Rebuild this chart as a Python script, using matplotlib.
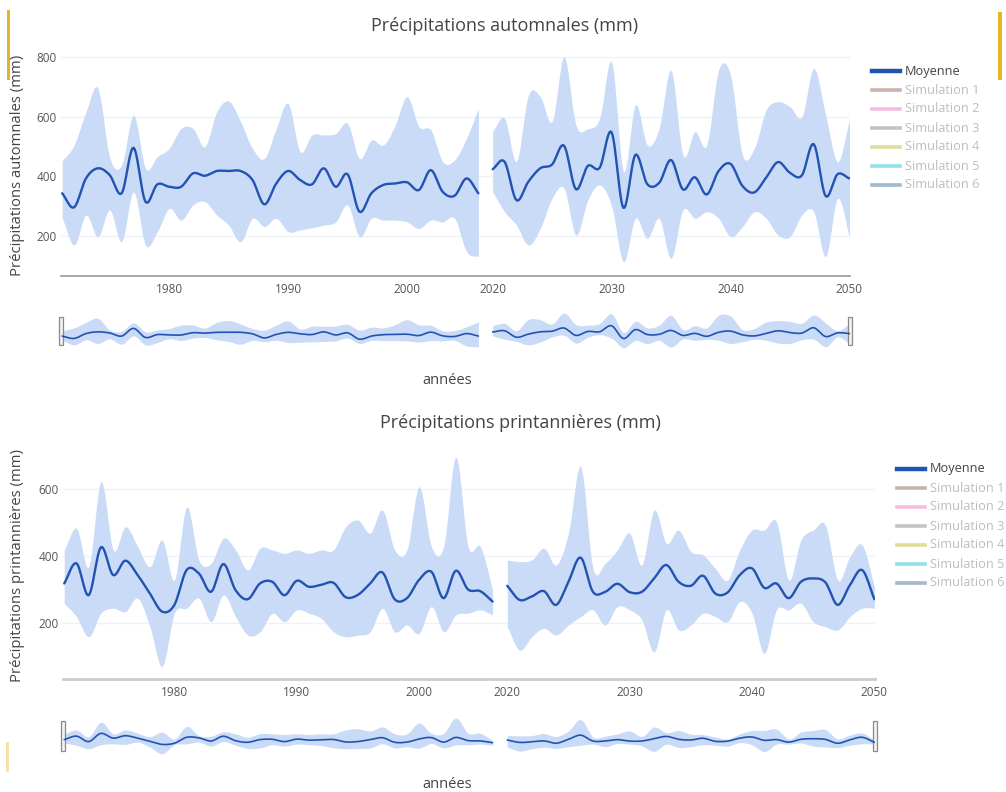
import numpy as np
import matplotlib
matplotlib.use("Agg")
import matplotlib.pyplot as plt
from matplotlib.patches import Rectangle
from matplotlib.lines import Line2D

W, H = 1006, 792
plt.rcParams['font.family'] = ['Open Sans', 'DejaVu Sans']

# years of the two periods; the empty years in between are squeezed out of the axis
years_hist = np.arange(1971, 2007)
years_fut = np.arange(2020, 2051)
GAP = 12.8

# autumn precipitation (mm): ensemble mean, min and max
aut_mean_hist = [343, 296, 393, 427, 404, 343, 496, 315, 373, 365, 365, 410, 402, 418, 418, 418,
                 388, 306, 376, 418, 388, 373, 427, 365, 407, 281, 343, 371, 376, 380, 354, 421,
                 348, 335, 393, 343]
aut_hi_hist = [452, 505, 617, 696, 462, 438, 606, 427, 466, 494, 561, 561, 500, 617, 653, 584,
               494, 460, 561, 645, 483, 539, 539, 544, 578, 460, 522, 505, 572, 668, 567, 556,
               449, 455, 528, 628]
aut_lo_hist = [260, 169, 270, 197, 287, 180, 348, 169, 214, 292, 253, 304, 315, 270, 236, 180,
               259, 231, 259, 214, 220, 227, 236, 247, 304, 197, 259, 253, 253, 247, 225, 253,
               247, 259, 147, 130]
aut_mean_fut = [424, 449, 320, 382, 427, 440, 503, 357, 435, 429, 548, 294, 472, 374, 378, 455,
                356, 397, 339, 418, 442, 368, 346, 396, 448, 412, 403, 508, 334, 407, 393]
aut_hi_fut = [552, 595, 450, 673, 668, 584, 802, 572, 560, 595, 785, 416, 640, 505, 561, 757,
              472, 550, 505, 757, 740, 472, 494, 623, 651, 634, 600, 763, 606, 449, 589]
aut_lo_fut = [348, 281, 236, 169, 225, 326, 360, 203, 320, 371, 300, 113, 259, 191, 259, 124,
              287, 259, 281, 259, 197, 231, 281, 259, 203, 197, 270, 281, 130, 326, 197]

# spring precipitation (mm)
spr_mean_hist = [319, 379, 284, 427, 344, 387, 344, 289, 235, 255, 359, 349, 294, 377, 299, 272,
                 319, 324, 284, 327, 309, 315, 321, 278, 285, 319, 352, 272, 275, 330, 354, 275,
                 357, 301, 296, 265]
spr_hi_hist = [419, 484, 369, 623, 419, 488, 429, 369, 449, 329, 548, 389, 379, 454, 419, 359,
               424, 419, 409, 419, 409, 419, 419, 488, 508, 469, 538, 419, 419, 608, 429, 429,
               697, 429, 429, 300]
spr_lo_hist = [260, 220, 160, 230, 245, 235, 275, 190, 71, 230, 245, 275, 205, 285, 220, 165,
               175, 230, 205, 240, 230, 215, 175, 160, 165, 175, 245, 175, 195, 170, 250, 175,
               225, 230, 240, 225]
spr_mean_fut = [312, 270, 280, 296, 255, 324, 396, 294, 294, 318, 293, 294, 334, 374, 324, 312,
                342, 289, 292, 344, 364, 306, 319, 275, 324, 334, 322, 255, 314, 359, 272]
spr_hi_fut = [389, 384, 389, 424, 374, 469, 668, 364, 379, 419, 469, 374, 538, 439, 478, 414,
              404, 364, 329, 419, 478, 478, 503, 329, 449, 478, 493, 329, 399, 434, 309]
spr_lo_fut = [190, 120, 160, 185, 165, 195, 220, 240, 195, 250, 240, 210, 115, 240, 180, 195,
              230, 220, 205, 265, 230, 110, 240, 240, 260, 205, 190, 180, 220, 245, 245]

tick_years = [1980, 1990, 2000, 2020, 2030, 2040, 2050]
sim_labels = ["Simulation %d" % i for i in range(1, 7)]
sim_colors = ["#c9b3ad", "#f3bde2", "#c4c4c4", "#dedd9a", "#93dfe8", "#a3b9cc"]

FILL = "#c9dbf6"
MEAN = "#2253b3"
TXT = "#444444"


def to_pos(years):
    years = np.asarray(years, float)
    return np.where(years >= 2020, years - GAP, years)


def smooth(x, y, n=12):
    # Catmull-Rom spline through the yearly values
    x = np.asarray(x, float)
    y = np.asarray(y, float)
    px = np.concatenate([[2 * x[0] - x[1]], x, [2 * x[-1] - x[-2]]])
    py = np.concatenate([[2 * y[0] - y[1]], y, [2 * y[-1] - y[-2]]])
    t = np.linspace(0, 1, n, endpoint=False)[:, None]
    def cr(p):
        p0, p1, p2, p3 = p[:-3], p[1:-2], p[2:-1], p[3:]
        return 0.5 * (2 * p1 + (-p0 + p2) * t + (2 * p0 - 5 * p1 + 4 * p2 - p3) * t ** 2
                      + (-p0 + 3 * p1 - 3 * p2 + p3) * t ** 3)
    xs = np.append(cr(px).T.ravel(), x[-1])
    ys = np.append(cr(py).T.ravel(), y[-1])
    return xs, ys


def fig_rect(fig, l, t, r, b):
    return fig.add_axes([l / W, 1 - b / H, (r - l) / W, (b - t) / H])


def draw_series(ax, segments, lw):
    for yrs, mean, lo, hi in segments:
        p = to_pos(yrs)
        xs, m = smooth(p, mean)
        _, l = smooth(p, lo)
        _, u = smooth(p, hi)
        ax.fill_between(xs, l, u, color=FILL, lw=0)
        ax.plot(xs, m, color=MEAN, lw=lw, solid_capstyle="round")


def panel(fig, box, mini_box, segments, ylim, yticks, title, title_xy, ylabel, ylabel_xy,
          axis_color, axis_lw, legend_x, legend_y, xlabel_y):
    ax = fig_rect(fig, *box)
    draw_series(ax, segments, 1.7)
    ax.set_xlim(1970.9, 2037.25)
    ax.set_ylim(*ylim)
    ax.set_yticks(yticks)
    ax.set_xticks(to_pos(tick_years))
    ax.set_xticklabels([str(y) for y in tick_years])
    ax.grid(axis="y", color="#eef1f6", lw=1)
    ax.set_axisbelow(True)
    for s in ["top", "right", "left"]:
        ax.spines[s].set_visible(False)
    ax.spines["bottom"].set_color(axis_color)
    ax.spines["bottom"].set_linewidth(axis_lw)
    ax.tick_params(length=0, labelsize=8.5, labelcolor="#555555")
    ax.tick_params(axis="x", pad=5)
    ax.tick_params(axis="y", pad=3)

    fig.text(title_xy[0] / W, 1 - title_xy[1] / H, title, ha="center", va="center",
             fontsize=13, color=TXT)
    fig.text(ylabel_xy[0] / W, 1 - ylabel_xy[1] / H, ylabel, ha="center", va="center",
             rotation=90, fontsize=10.7, color=TXT)

    # range slider underneath
    mini = fig_rect(fig, *mini_box)
    draw_series(mini, segments, 1.2)
    mini.set_xlim(1970.9, 2037.25)
    mini.set_ylim(*ylim)
    mini.set_axis_off()
    for xa in (0, 1):
        mini.add_patch(Rectangle((xa - 0.003, 0.12), 0.006, 0.76, transform=mini.transAxes,
                                 facecolor="#f2f2f2", edgecolor="#8a8a8a", lw=0.9,
                                 clip_on=False))
    fig.text(447 / W, 1 - xlabel_y / H, "années", ha="center", va="center",
             fontsize=10.5, color=TXT)

    # legend: the simulations are hidden, only the mean is shown
    step = 19
    entries = [("Moyenne", MEAN, TXT)] + [(lab, c, "#bdbdbd") for lab, c in zip(sim_labels, sim_colors)]
    for i, (lab, col, tcol) in enumerate(entries):
        yy = 1 - (legend_y + i * step) / H
        fig.add_artist(Line2D([legend_x / W, (legend_x + 28) / W], [yy, yy], color=col,
                              lw=3.2 if i == 0 else 2.6, transform=fig.transFigure))
        fig.text((legend_x + 33) / W, yy, lab, ha="left", va="center", fontsize=9.2,
                 color=tcol)
    return ax


fig = plt.figure(figsize=(W / 100, H / 100), dpi=100)

aut_segments = [(years_hist, aut_mean_hist, aut_lo_hist, aut_hi_hist),
                (years_fut, aut_mean_fut, aut_lo_fut, aut_hi_fut)]
spr_segments = [(years_hist, spr_mean_hist, spr_lo_hist, spr_hi_hist),
                (years_fut, spr_mean_fut, spr_lo_fut, spr_hi_fut)]

panel(fig, (61, 50.8, 850, 275.7), (61, 312, 850, 350), aut_segments, (66, 822),
      [200, 400, 600, 800], "Précipitations automnales (mm)", (505, 26),
      "Précipitations automnales (mm)", (18, 165), "#9a9a9a", 1.2, 872, 71, 380)
panel(fig, (63, 445.7, 875, 679.3), (63, 716, 875, 756), spr_segments, (33, 730),
      [200, 400, 600], "Précipitations printannières (mm)", (520, 423),
      "Précipitations printannières (mm)", (18, 566), "#cccccc", 2.0, 897, 469, 785)

# coloured page edges
fig.add_artist(Rectangle((7 / W, 1 - 80 / H), 3 / W, 70 / H, transform=fig.transFigure,
                         color="#e5b526", lw=0))
fig.add_artist(Rectangle((998 / W, 1 - 80 / H), 4 / W, 68 / H, transform=fig.transFigure,
                         color="#e5b526", lw=0))
fig.add_artist(Rectangle((6 / W, 1 - 772 / H), 3 / W, 30 / H, transform=fig.transFigure,
                         color="#f4e2a8", lw=0))

fig.savefig("out.png", dpi=100)
